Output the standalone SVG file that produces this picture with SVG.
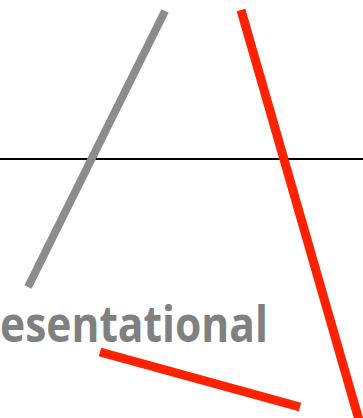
<svg xmlns="http://www.w3.org/2000/svg" width="363" height="418" viewBox="0 0 363 418">
<style>
.red{stroke:#ff2200;stroke-width:9;fill:none}
.gray{stroke:#8c8c8c;stroke-width:8;fill:none}
.txt{font-family:"Open Sans","Liberation Sans",sans-serif;font-weight:bold;fill:#808080}
</style>
<rect width="363" height="418" fill="#ffffff"/>
<g id="connectors">
<line x1="0" y1="159" x2="363" y2="159" stroke="#000000" stroke-width="2"/>
<line id="gray-line" class="gray" x1="165" y1="11" x2="28" y2="287"/>
<line id="red-line-1" class="red" x1="241" y1="10" x2="359" y2="420"/>
<line id="red-line-2" class="red" x1="100" y1="352" x2="300" y2="407"/>
</g>
<g id="label">
<text class="txt" x="0" y="342" font-size="51" textLength="268" lengthAdjust="spacingAndGlyphs">esentational</text>
</g>
</svg>
